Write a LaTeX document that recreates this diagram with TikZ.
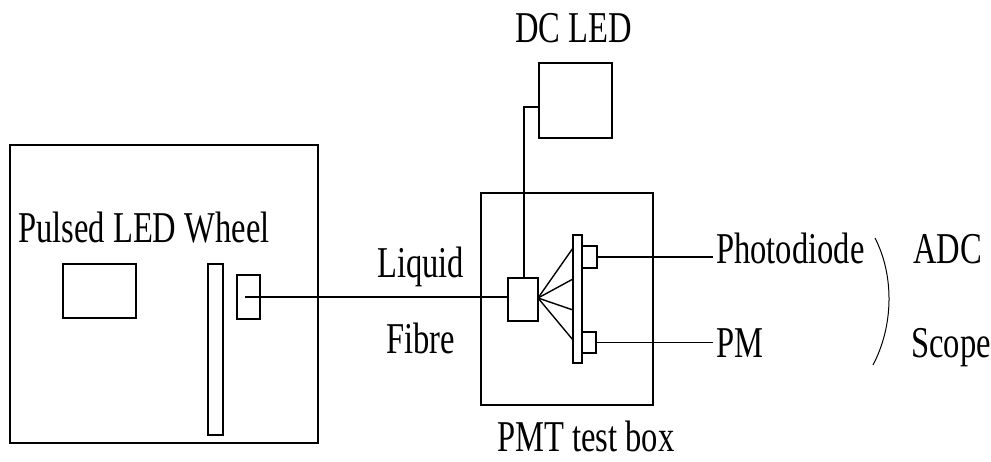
\documentclass[tikz,border=0pt]{standalone}
\usepackage{fontspec}
\setmainfont{Liberation Serif}[FakeStretch=0.74]
\begin{document}
\begin{tikzpicture}[x=1pt,y=-1pt,
  box/.style={draw,line width=2pt,inner sep=0pt},
  wire/.style={line width=1.4pt},
  lbl/.style={anchor=base west,inner sep=0pt,font=\fontsize{44}{50}\selectfont}]
\useasboundingbox (0,0) rectangle (991,461);
% left box
\node[box,minimum width=308pt,minimum height=298pt] (left) at (164,294) {};
\node[box,minimum width=73pt,minimum height=54pt] (led) at (99.5,291) {};
\node[box,minimum width=15pt,minimum height=171pt] (wheel) at (215.5,349.5) {};
\node[box,minimum width=23pt,minimum height=44pt] (holder) at (248.5,297) {};
% PMT box
\node[box,minimum width=172pt,minimum height=212pt] (pmt) at (567,299) {};
\node[box,minimum width=73pt,minimum height=75pt] (dcled) at (575.5,100.5) {};
\node[box,minimum width=30pt,minimum height=43pt] (coupler) at (523,299.5) {};
\node[box,minimum width=9pt,minimum height=128pt] (plate) at (577.5,299) {};
\node[box,minimum width=15pt,minimum height=22pt] (s1) at (589.5,257) {};
\node[box,minimum width=14pt,minimum height=21pt] (s2) at (589,342.5) {};
% coordinates
\coordinate (fstart) at (245,297);
\coordinate (dcbend) at (524,107);
\coordinate (fan) at (538,298);
\coordinate (f1) at (573,248);
\coordinate (f2) at (573,279);
\coordinate (f3) at (573,310);
\coordinate (f4) at (573,340);
\coordinate (e1) at (713,257);
\coordinate (e2) at (713,342.5);
\coordinate (p1) at (875,238);
\coordinate (p2) at (873,365);
% wires
\draw[wire] (fstart) -- (fstart -| coupler.west);
\draw[wire] (dcbend -| dcled.west) -- (dcbend) -- (dcbend |- coupler.north);
\foreach \f in {f1,f2,f3,f4} \draw[wire] (fan) -- (\f);
\draw[wire] (s1.east) -- (e1);
\draw[wire] (s2.east) -- (e2);
\draw[line width=1pt] (p1) .. controls (894,275) and (894,325) .. (p2);
% labels
\node[lbl] (tpulsed) at (18,242) {Pulsed LED Wheel};
\node[lbl] (tdc) at (515,42) {DC LED};
\node[lbl] (tliquid) at (377,277) {Liquid};
\node[lbl] (tfibre) at (386,353) {Fibre};
\node[lbl] (tphoto) at (716,263) {Photodiode};
\node[lbl] (tpm) at (716,357) {PM};
\node[lbl] (tadc) at (913,263) {ADC};
\node[lbl] (tscope) at (911,357) {Scope};
\node[lbl] (tpmt) at (497,451) {PMT test box};
\end{tikzpicture}
\end{document}
